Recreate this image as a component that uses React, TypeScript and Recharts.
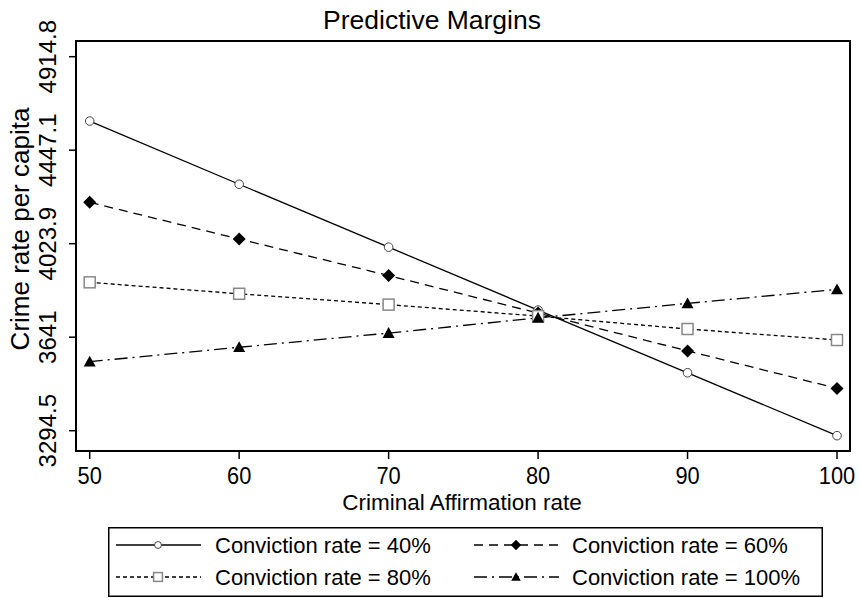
import React from "react";
import { LineChart, Line, XAxis, YAxis, ReferenceArea, Legend } from "recharts";

const affirmationRates = [50, 60, 70, 80, 90, 100];
const conviction40 = [4588, 4288, 4009, 3748, 3505, 3277];
const conviction60 = [4206, 4044, 3889, 3736, 3588, 3447];
const conviction80 = [3861, 3814, 3770, 3724, 3673, 3630];
const conviction100 = [3547, 3602, 3657, 3717, 3775, 3832];
const xTicks = [50, 60, 70, 80, 90, 100];
const yTicks = [3294.5, 3641, 4023.9, 4447.1, 4914.8];

const FONT = "'Liberation Sans', Arial, sans-serif";
const W = 860;
const H = 598;

const data = affirmationRates.map((rate, i) => ({
    rate,
    c40: conviction40[i],
    c60: conviction60[i],
    c80: conviction80[i],
    c100: conviction100[i],
}));

type Kind = "circle" | "diamond" | "square" | "triangle";

const series: { key: string; name: string; dash?: string; kind: Kind }[] = [
    { key: "c40", name: "Conviction rate = 40%", kind: "circle" },
    { key: "c60", name: "Conviction rate = 60%", dash: "9 6", kind: "diamond" },
    { key: "c80", name: "Conviction rate = 80%", dash: "4 3", kind: "square" },
    { key: "c100", name: "Conviction rate = 100%", dash: "13 5 2 5", kind: "triangle" },
];

function Marker({ kind, cx, cy, k = 1 }: { kind: Kind; cx: number; cy: number; k?: number }) {
    if (kind === "circle") {
        return <circle cx={cx} cy={cy} r={4.3 * k} fill="#fff" stroke="#444" strokeWidth={1} />;
    }
    if (kind === "diamond") {
        const h = 6.5 * k;
        return <polygon points={`${cx},${cy - h} ${cx + h},${cy} ${cx},${cy + h} ${cx - h},${cy}`} fill="#000" />;
    }
    if (kind === "square") {
        const s = 5.5 * k;
        return <rect x={cx - s} y={cy - s} width={2 * s} height={2 * s} fill="#fff" stroke="#888" strokeWidth={1.5} />;
    }
    const t = 6 * k;
    return <polygon points={`${cx},${cy - t} ${cx + t},${cy + t * 0.8} ${cx - t},${cy + t * 0.8}`} fill="#000" />;
}

const dotFor = (kind: Kind) => (props: any) => (
    <Marker key={`${kind}-${props.index}`} kind={kind} cx={props.cx} cy={props.cy} />
);

// x labels sit a bit lower and are slightly taller in the original
const XTick = (props: any) => {
    const { x, payload } = props;
    return (
        <text transform={`translate(${x}, 484) scale(1, 1.06)`} textAnchor="middle" fontSize={21.8} fontFamily={FONT} fill="#000">
            {String(payload.value)}
        </text>
    );
};

const YTick = (props: any) => {
    const { y, payload } = props;
    return (
        <text x={56} y={y} transform={`rotate(-90, 56, ${y})`} textAnchor="middle" fontSize={24} fontFamily={FONT} fill="#000">
            {String(payload.value)}
        </text>
    );
};

// legend drawn as one svg box under the plot
const LegendBox = () => {
    const cols = [
        { sx: 8, tx: 107 },
        { sx: 366, tx: 464 },
    ];
    const rows = [18, 50];
    return (
        <svg width={715} height={70}>
            <rect x={0.75} y={0.75} width={713.5} height={68.5} fill="#fff" stroke="#000" strokeWidth={1.5} />
            {series.map((s, i) => {
                const c = cols[i % 2];
                const y = rows[Math.floor(i / 2)];
                return (
                    <g key={s.key}>
                        <line x1={c.sx} x2={c.sx + 85} y1={y} y2={y} stroke="#000" strokeWidth={1.3} strokeDasharray={s.dash} />
                        <Marker kind={s.kind} cx={c.sx + 42} cy={y} k={0.8} />
                        <text x={c.tx} y={y + 8} fontSize={22} fontFamily={FONT} fill="#000">
                            {s.name}
                        </text>
                    </g>
                );
            })}
        </svg>
    );
};

export default function App() {
    return (
        <div style={{ position: "absolute", left: 0, top: 0, width: W, height: H, background: "#fff" }}>
            <LineChart width={W} height={H} data={data} margin={{ top: 41, right: 10, left: 16, bottom: 117 }}>
                <XAxis
                    dataKey="rate"
                    type="number"
                    domain={[49.083, 100.87]}
                    allowDataOverflow
                    ticks={xTicks}
                    height={30}
                    axisLine={false}
                    tickSize={8}
                    tickLine={{ stroke: "#000", strokeWidth: 1.5 }}
                    tick={<XTick />}
                />
                <YAxis
                    type="number"
                    scale="log"
                    domain={[3223.7, 4998]}
                    allowDataOverflow
                    ticks={yTicks}
                    width={60}
                    axisLine={false}
                    tickSize={7}
                    tickLine={{ stroke: "#000", strokeWidth: 1.5 }}
                    tick={<YTick />}
                />
                <ReferenceArea
                    x1={49.083}
                    x2={100.87}
                    y1={3223.7}
                    y2={4998}
                    fill="none"
                    fillOpacity={0}
                    stroke="#000"
                    strokeWidth={2}
                />
                {series.map((s) => (
                    <Line
                        key={s.key}
                        dataKey={s.key}
                        name={s.name}
                        type="linear"
                        stroke="#000"
                        strokeWidth={1.3}
                        strokeDasharray={s.dash}
                        dot={dotFor(s.kind)}
                        activeDot={false}
                        isAnimationActive={false}
                    />
                ))}
                <Legend
                    layout="horizontal"
                    verticalAlign="middle"
                    align="center"
                    content={<LegendBox />}
                    wrapperStyle={{ left: 108, top: 527, width: 715, height: 70 }}
                />
            </LineChart>
            <svg width={W} height={H} style={{ position: "absolute", left: 0, top: 0, pointerEvents: "none" }}>
                <text x={432} y={29} textAnchor="middle" fontSize={26.5} fontFamily={FONT} fill="#000">
                    Predictive Margins
                </text>
                <text x={462} y={510} textAnchor="middle" fontSize={22.5} fontFamily={FONT} fill="#000">
                    Criminal Affirmation rate
                </text>
                <text x={29} y={229} transform="rotate(-90, 29, 229)" textAnchor="middle" fontSize={26} fontFamily={FONT} fill="#000">
                    Crime rate per capita
                </text>
            </svg>
        </div>
    );
}
